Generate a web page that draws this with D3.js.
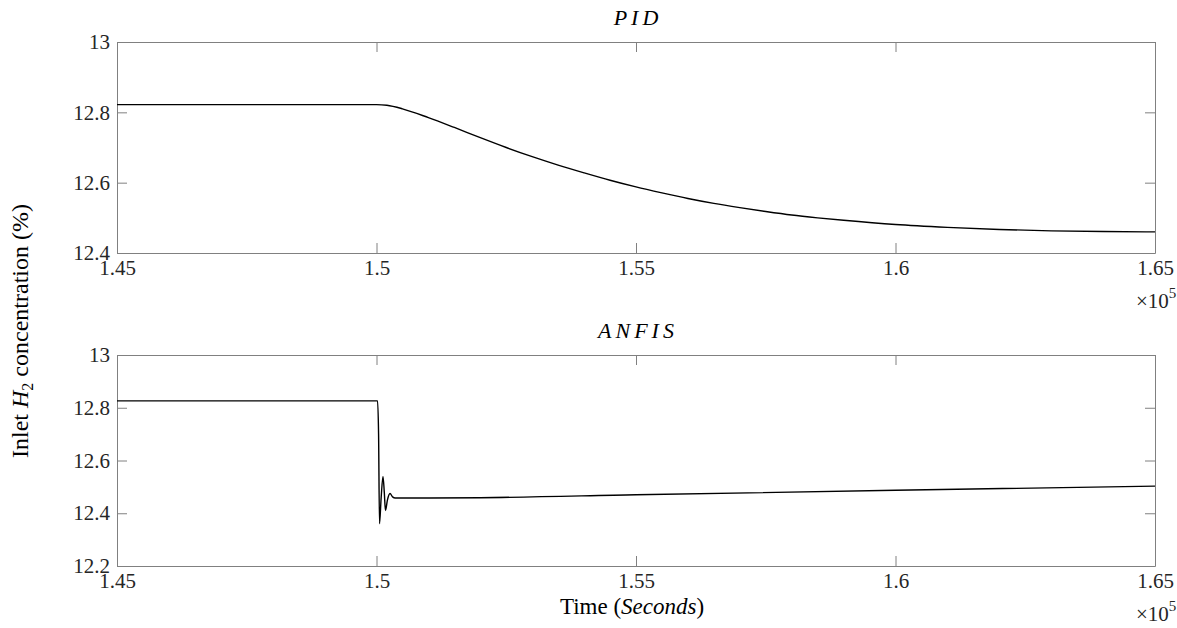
<!DOCTYPE html>
<html><head><meta charset="utf-8">
<script src="https://cdn.jsdelivr.net/npm/d3@7"></script>
</head><body style="margin:0;background:#fff">
<svg id="c" width="1177" height="628" style="display:block"></svg>
<script>
// Time values in units of 1e5 seconds
const pidTime = [1.45, 1.50, 1.502, 1.505, 1.51, 1.515, 1.52, 1.525, 1.53, 1.535, 1.54, 1.545, 1.55, 1.555, 1.56, 1.565, 1.57, 1.575, 1.58, 1.585, 1.59, 1.60, 1.61, 1.62, 1.63, 1.64, 1.65];
const pidValues = [12.822, 12.822, 12.82, 12.81, 12.785, 12.757, 12.728, 12.70, 12.674, 12.65, 12.628, 12.607, 12.588, 12.571, 12.555, 12.541, 12.529, 12.518, 12.508, 12.500, 12.493, 12.481, 12.473, 12.467, 12.463, 12.461, 12.460];
const anfisTime = [1.45, 1.50, 1.5002, 1.5004, 1.50058, 1.5009, 1.50125, 1.5015, 1.50173, 1.5021, 1.5026, 1.5031, 1.5036, 1.51, 1.52, 1.55, 1.60, 1.65];
const anfisValues = [12.826, 12.826, 12.826, 12.70, 12.36, 12.46, 12.54, 12.48, 12.41, 12.45, 12.475, 12.462, 12.458, 12.458, 12.459, 12.470, 12.487, 12.503];
const xTicks = [1.45, 1.5, 1.55, 1.6, 1.65];
const xTickLabels = ["1.45", "1.5", "1.55", "1.6", "1.65"];
const pidYTicks = [12.4, 12.6, 12.8, 13];
const anfisYTicks = [12.2, 12.4, 12.6, 12.8, 13];
const titles = ["PID", "ANFIS"];

const FONT = '"Liberation Serif"';
const svg = d3.select("#c");
const L = 117, R = 1155;
const panels = [
  {title: titles[0], t: pidTime, v: pidValues, yDom: [12.4, 13], yTicks: pidYTicks, top: 42, bot: 253},
  {title: titles[1], t: anfisTime, v: anfisValues, yDom: [12.2, 13], yTicks: anfisYTicks, top: 355, bot: 566}
];
const axisColor = "#808080", textColor = "#262626";

panels.forEach(p => {
  const x = d3.scaleLinear().domain([1.45, 1.65]).range([L, R]);
  const y = d3.scaleLinear().domain(p.yDom).range([p.bot, p.top]);
  const g = svg.append("g");
  const tl = 10;
  const xb = g.append("g").attr("transform", `translate(0,${p.bot})`)
    .call(d3.axisBottom(x).tickValues(xTicks).tickFormat((d,i)=>xTickLabels[i]).tickSizeInner(-tl).tickSizeOuter(0).tickPadding(7));
  const xt = g.append("g").attr("transform", `translate(0,${p.top})`)
    .call(d3.axisTop(x).tickValues(xTicks).tickFormat("").tickSizeInner(-tl).tickSizeOuter(0));
  const yl = g.append("g").attr("transform", `translate(${L},0)`)
    .call(d3.axisLeft(y).tickValues(p.yTicks).tickFormat(d3.format("~g")).tickSizeInner(-tl).tickSizeOuter(0).tickPadding(7));
  const yr = g.append("g").attr("transform", `translate(${R},0)`)
    .call(d3.axisRight(y).tickValues(p.yTicks).tickFormat("").tickSizeInner(-tl).tickSizeOuter(0));
  [xb, xt, yl, yr].forEach(a => {
    a.attr("font-family", null).attr("font-size", null);
    a.selectAll("path, line").attr("stroke", axisColor).attr("stroke-width", 1);
    a.selectAll("text").attr("fill", textColor).style("font-family", FONT).style("font-size", "21px");
  });
  xb.selectAll("text").attr("dy", "0.71em");
  g.append("path")
    .datum(p.t.map((t,i)=>[t, p.v[i]]))
    .attr("fill", "none").attr("stroke", "#000").attr("stroke-width", 1.4)
    .attr("d", d3.line().x(d=>x(d[0])).y(d=>y(d[1])).curve(d3.curveMonotoneX));
  g.append("text").attr("x", (L+R)/2 + 2).attr("y", p.top - 17).attr("text-anchor", "middle")
    .style("font-family", FONT).style("font-size", "22px").style("font-style", "italic")
    .style("letter-spacing", "4px").attr("fill", "#000").text(p.title);
  const ex = g.append("text").attr("x", 1136).attr("y", p.bot + 55).style("font-family", FONT).style("font-size", "21px").attr("fill", textColor);
  ex.append("tspan").text("×10");
  ex.append("tspan").attr("dy", -10).style("font-size", "15px").text("5");
});

const ylab = svg.append("text").attr("transform", "translate(28,331) rotate(-90)").attr("text-anchor", "middle")
  .style("font-family", FONT).style("font-size", "24px").attr("fill", "#000");
ylab.append("tspan").text("Inlet ");
ylab.append("tspan").style("font-style", "italic").text("H");
ylab.append("tspan").attr("dy", 5).style("font-size", "16px").text("2");
ylab.append("tspan").attr("dy", -5).text(" concentration (%)");

const xlab = svg.append("text").attr("x", 632).attr("y", 614).attr("text-anchor", "middle")
  .style("font-family", FONT).style("font-size", "23px").attr("fill", "#000");
xlab.append("tspan").text("Time (");
xlab.append("tspan").style("font-style", "italic").text("Seconds");
xlab.append("tspan").text(")");
</script>
</body></html>
